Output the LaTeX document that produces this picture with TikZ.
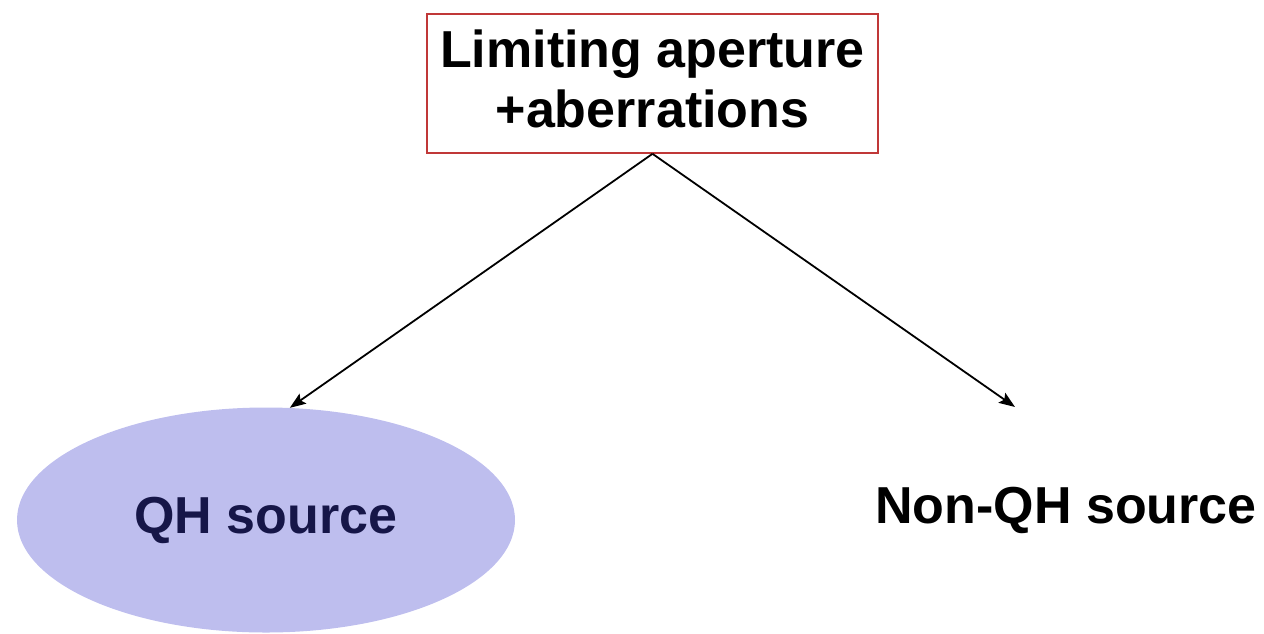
\documentclass[tikz,border=0pt]{standalone}
\usepackage{fontspec}
\setmainfont{Liberation Sans}
\usetikzlibrary{shapes.geometric,arrows.meta}
\definecolor{boxred}{RGB}{192,56,56}
\definecolor{qhfill}{RGB}{190,190,238}
\definecolor{qhtext}{RGB}{22,22,72}
\tikzset{
  lbl/.style={font=\fontsize{52}{60}\selectfont\bfseries, align=center, inner sep=0pt},
  topbox/.style={draw=boxred, line width=1.6pt, minimum width=451pt, minimum height=139pt, inner sep=0pt},
  qhell/.style={lbl, ellipse, fill=qhfill, minimum width=498pt, minimum height=225pt, text=qhtext},
  conn/.style={line width=1.8pt, -{Stealth[length=16pt,width=12pt,inset=3pt]}}
}
\begin{document}
\begin{tikzpicture}[x=1pt,y=-1pt]
\useasboundingbox (0,0) rectangle (1264,633);
\node[topbox] (top) at (652.5,83.5) {};
\node[lbl] (toptext) at (652.5,79) {Limiting aperture\\[0pt]+aberrations};
\node[qhell] (qh) at (266,520) {QH source};
\node[lbl] (nqh) at (1066,510) {Non-QH source};
\coordinate (nqhend) at (1015,407);
\draw[conn] (top.south) -- (qh.78);
\draw[conn] (top.south) -- (nqhend);
\end{tikzpicture}
\end{document}
